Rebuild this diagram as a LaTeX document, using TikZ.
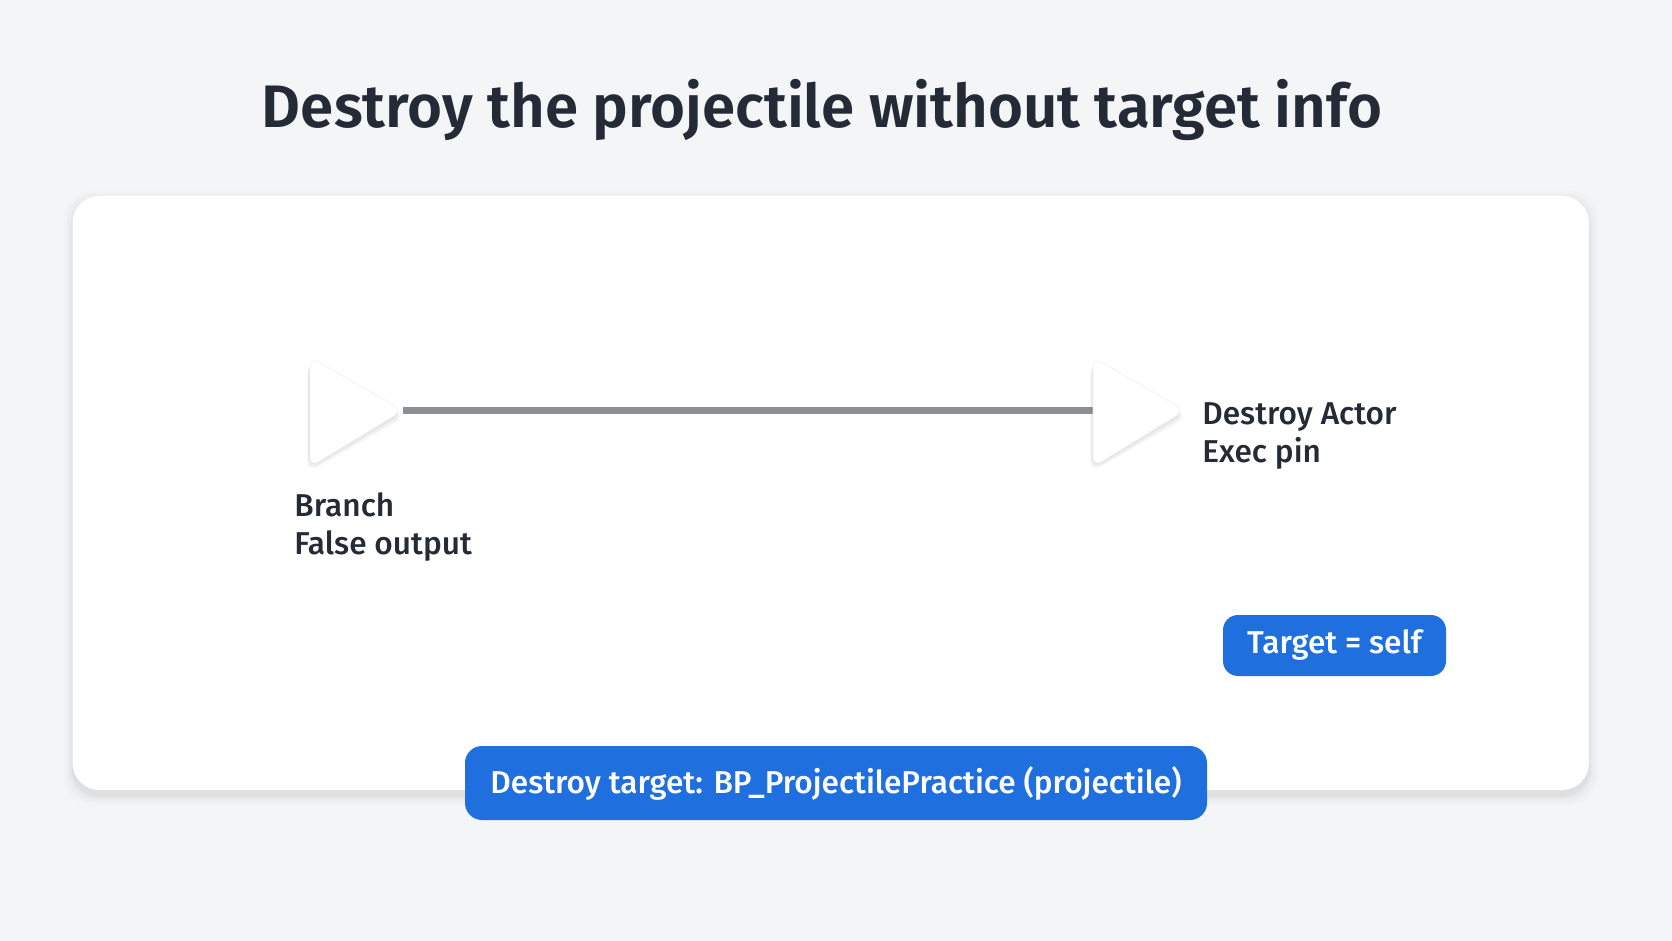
\documentclass[tikz,border=0pt]{standalone}
\usepackage{fontspec}
\setmainfont{Fira Sans}
\newfontfamily\titlefont{Fira Sans SemiBold}
\newfontfamily\labelfont{Fira Sans Medium}
\definecolor{bgcol}{HTML}{F4F5F7}
\definecolor{inkcol}{HTML}{242B37}
\definecolor{pillblue}{HTML}{1F6FDE}
\definecolor{wirecol}{HTML}{8C9096}
\begin{document}
\begin{tikzpicture}[x=0.5pt,y=-0.5pt,line join=round,line cap=round]
                \tikzset{pinlabel/.style={font=\labelfont\fontsize{15.8}{19}\selectfont,text=inkcol,align=left,anchor=west,inner sep=0pt}}
                \tikzset{pill/.style={fill=pillblue,text=white,font=\labelfont\fontsize{15.8}{19}\selectfont,inner sep=0pt}}
                \tikzset{pin/.style={fill=white,draw=black!5,line width=0.4pt,rounded corners=5pt}}
                \tikzset{pinshadow/.style={fill=black,opacity=0.035,rounded corners=6pt}}
                \def \xmin{72.5}
                \def \xmax{1589}
                \def \ymin{196}
                \def \ymax{790}
                \fill[bgcol] (0,0) rectangle (1672,941);
                \useasboundingbox (0,0) rectangle (1672,941);
                \foreach \s/\o in {9/0.012,6/0.018,3/0.025,1/0.03}
                    \fill[black,opacity=\o,rounded corners=14pt] (\xmin-\s,\ymin-\s+4) rectangle (\xmax+\s,\ymax+\s+6);
                \fill[white,rounded corners=13.5pt] (\xmin,\ymin) rectangle (\xmax,\ymax);
                \node[font=\titlefont\fontsize{30}{36}\selectfont,text=inkcol] (title) at (822,110) {Destroy the projectile without target info};
                \coordinate (falsetip) at (403,410.5);
                \coordinate (execbase) at (1093,410.5);
                \draw[wirecol,line width=3.3pt,line cap=butt] (falsetip) -- (execbase);
                \foreach \d in {2,4,6}
                    \fill[pinshadow] (310-\d/2,357+\d) -- (403+\d/2,410.5+\d) -- (310-\d/2,467+\d) -- cycle;
                \draw[pin] (310,357) -- (falsetip) -- (310,467) -- cycle;
                \foreach \d in {2,4,6}
                    \fill[pinshadow] (1093-\d/2,357+\d) -- (1185+\d/2,410.5+\d) -- (1093-\d/2,467+\d) -- cycle;
                \draw[pin] (execbase |- 0,357) -- (1185,410.5) -- (execbase |- 0,467) -- cycle;
                \node[pinlabel] (execlabel) at (1202,436.5) {Destroy Actor\\Exec pin};
                \node[pinlabel] (falselabel) at (294,527) {Branch\\False output};
                \node[pill,rounded corners=7.5pt,minimum width=111.5pt,minimum height=30.5pt] (selftag) at (1334.5,645.5) {Target = self};
                \node[pill,rounded corners=8.5pt,minimum width=371pt,minimum height=37pt] (targettag) at (836,783) {Destroy target: BP\_ProjectilePractice (projectile)};
            \end{tikzpicture}
\end{document}
